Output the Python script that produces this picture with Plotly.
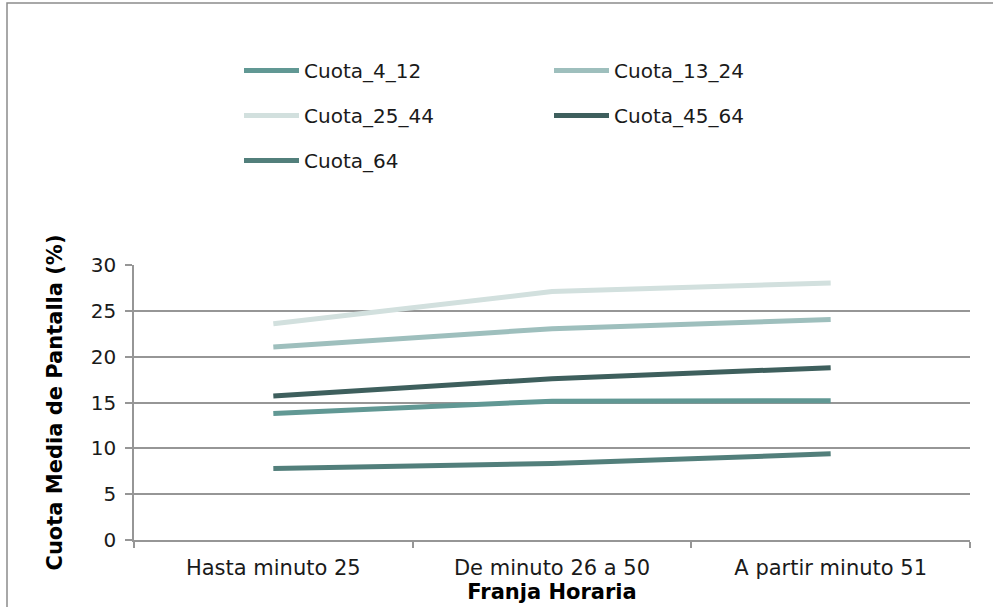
import plotly.graph_objects as go

# Time slots on the horizontal axis
franjas = ["Hasta minuto 25", "De minuto 26 a 50", "A partir minuto 51"]

# Average screen share (%) per age group
cuota_4_12 = [13.8, 15.15, 15.2]
cuota_13_24 = [21.05, 23.05, 24.05]
cuota_25_44 = [23.6, 27.1, 28.05]
cuota_45_64 = [15.7, 17.6, 18.8]
cuota_64 = [7.8, 8.35, 9.4]

y_ticks = [0, 5, 10, 15, 20, 25, 30]

series = [
    ("Cuota_4_12", cuota_4_12, "#619894", "legend"),
    ("Cuota_13_24", cuota_13_24, "#9ebfbd", "legend2"),
    ("Cuota_25_44", cuota_25_44, "#d2e0de", "legend"),
    ("Cuota_45_64", cuota_45_64, "#3e5f5d", "legend2"),
    ("Cuota_64", cuota_64, "#527f7b", "legend"),
]

FONT = "DejaVu Sans, Verdana, sans-serif"
GRID = "#969696"
TXT = "#1a1a1a"

fig = go.Figure()
for name, vals, color, leg in series:
    fig.add_trace(go.Scatter(
        x=franjas, y=vals, name=name, mode="lines",
        line=dict(color=color, width=5),
        legend=leg, legendgroup=name,
    ))

W, H = 993, 607
ml, mr, mt, mb = 134, 23, 265, 67
pw, ph = W - ml - mr, H - mt - mb


def px_x(px):
    return (px - ml) / pw


def px_y(py):
    return (H - mb - py) / ph


legend_common = dict(
    orientation="v", xanchor="left", yanchor="top",
    font=dict(family=FONT, size=20, color=TXT),
    bgcolor="rgba(0,0,0,0)", tracegroupgap=16, itemwidth=55,
    traceorder="grouped",
)

fig.update_layout(
    width=W, height=H,
    margin=dict(l=ml, r=mr, t=mt, b=mb, autoexpand=False),
    paper_bgcolor="white", plot_bgcolor="white",
    font=dict(family=FONT, size=20, color=TXT),
    legend=dict(x=px_x(239), y=px_y(51), **legend_common),
    legend2=dict(x=px_x(549), y=px_y(51), **legend_common),
    xaxis=dict(
        type="category", categoryorder="array", categoryarray=franjas,
        range=[-0.5, 2.5],
        showline=True, linecolor=GRID, linewidth=1.5,
        ticks="outside", tickson="boundaries", ticklen=6, tickcolor=GRID,
        tickwidth=1.5, showgrid=False, mirror=False,
        ticklabelstandoff=8,
        tickfont=dict(family=FONT, size=21, color=TXT),
        title=dict(text="<b>Franja Horaria</b>", standoff=2,
                   font=dict(family=FONT, size=21, color="#000000")),
    ),
    yaxis=dict(
        range=[0, 30], tickvals=y_ticks,
        showline=True, linecolor=GRID, linewidth=1.5,
        ticks="outside", ticklen=7, tickcolor=GRID, tickwidth=1.5,
        showgrid=True, gridcolor=GRID, gridwidth=1.5, zeroline=False,
        ticklabelstandoff=5,
        tickfont=dict(family=FONT, size=20, color=TXT),
        title=dict(text="<b>Cuota Media de Pantalla (%)</b>", standoff=22,
                   font=dict(family=FONT, size=21, color="#000000")),
    ),
    shapes=[
        dict(type="rect", xref="paper", yref="paper",
             x0=px_x(7), x1=px_x(1010), y0=px_y(625), y1=px_y(3),
             line=dict(color="#8c8c8c", width=1.5), layer="below"),
    ],
)

fig.write_html("out.html")
